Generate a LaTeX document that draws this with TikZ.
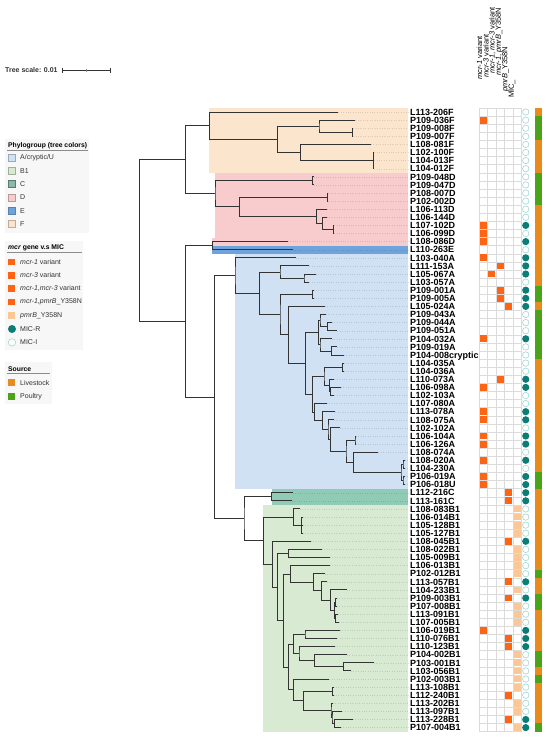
\documentclass[tikz,border=0pt]{standalone}
\usepackage{fontspec}
\setmainfont{Liberation Sans}
\usetikzlibrary{calc}
\definecolor{bandF}{HTML}{FCE5CD}
\definecolor{bandD}{HTML}{F8CCCC}
\definecolor{bandE}{HTML}{6FA3DC}
\definecolor{bandA}{HTML}{CFE1F3}
\definecolor{bandC}{HTML}{8FCBB5}
\definecolor{bandB}{HTML}{D9EAD3}
\definecolor{mcrorange}{HTML}{FF6314}
\definecolor{pmrlight}{HTML}{FAC796}
\definecolor{micr}{HTML}{0B7D78}
\definecolor{mici}{HTML}{A3D6D3}
\definecolor{livestock}{HTML}{E98A1D}
\definecolor{poultry}{HTML}{4AA41A}
\definecolor{treegray}{HTML}{333333}
\definecolor{lgtext}{HTML}{333333}
\newcommand\mkclade[4]{%
  \coordinate (tmpmid) at ($(#3)!0.5!(#4)$);
  \coordinate (tmpx) at (#2,0);
  \coordinate (#1) at (tmpmid -| tmpx);
  \draw[br] (#3) -| (#1) |- (#4);
}
\newcommand\midleaf[2]{\draw[br] (#2 -| #1) -- (#2);}
\begin{document}
\begin{tikzpicture}[x=1pt,y=-1pt,
  br/.style={draw=treegray,line width=0.9pt},
  lbl/.style={anchor=west,inner sep=0pt,font=\fontsize{9}{9}\selectfont\bfseries,text height=6.5pt,text depth=0pt},
  guide/.style={draw=black,draw opacity=0.12,dotted,line width=0.4pt},
  gridl/.style={draw=black!14,line width=0.4pt},
  cell/.style={minimum size=6.8pt,inner sep=0pt,outer sep=0pt},
  hm0/.style={draw=none},
  hm1/.style={fill=mcrorange},
  hm2/.style={fill=mcrorange},
  hm3/.style={fill=mcrorange},
  hm4/.style={fill=mcrorange},
  hm5/.style={fill=pmrlight},
  micR/.style={circle,fill=micr,minimum size=7.2pt,inner sep=0pt},
  micI/.style={circle,draw=mici,fill=white,line width=0.6pt,minimum size=6.4pt,inner sep=0pt},
  srcL/.style={fill=livestock,minimum width=6.5pt,minimum height=8.4pt,inner sep=0pt},
  srcP/.style={fill=poultry,minimum width=6.5pt,minimum height=8.4pt,inner sep=0pt},
  hdr/.style={rotate=90,anchor=west,inner sep=0pt,font=\fontsize{7.5}{7.5}\selectfont},
  lgtitle/.style={anchor=west,inner sep=0pt,font=\fontsize{6.8}{6.8}\selectfont\bfseries,text=black},
  lgtxt/.style={anchor=west,inner sep=0pt,font=\fontsize{7}{7}\selectfont,text=lgtext},
  lgsw/.style={minimum size=6.8pt,inner sep=0pt,line width=0.4pt},
  ]
\useasboundingbox (0,0) rectangle (550,737);
\fill[white] (0,0) rectangle (550,737);

% clade bands
\fill[bandF] (209.3,107.95) rectangle (408.3,172.75);
\fill[bandD] (215,172.75) rectangle (408.3,237.55);
\fill[bandD] (211.7,237.55) rectangle (408.3,245.65);
\fill[bandE] (211.7,245.65) rectangle (408.3,253.75);
\fill[bandA] (235,253.75) rectangle (408.3,488.65);
\fill[bandC] (271.7,488.65) rectangle (408.3,504.85);
\fill[bandB] (263.3,504.85) rectangle (408.3,731.65);

% leaves, guides and labels
\foreach \i/\ex/\lab in {0/338.3/L113-206F,1/355.3/P109-036F,2/353.1/P109-008F,3/353.1/P109-007F,4/370.7/L108-081F,5/374.1/L102-100F,6/374.1/L104-013F,7/374.1/L104-012F,8/313.5/P109-048D,9/313.5/P109-047D,10/328.1/P108-007D,11/328.1/P102-002D,12/327.3/L106-113D,13/327/L106-144D,14/334.1/L107-102D,15/334.1/L106-099D,16/287.7/L108-086D,17/292.7/L110-263E,18/295.7/L103-040A,19/309.3/L111-153A,20/316/L105-067A,21/309.3/L103-057A,22/313.5/P109-001A,23/313.5/P109-005A,24/325/L105-024A,25/326/P109-043A,26/332/P109-044A,27/337.3/P109-051A,28/331.7/P104-032A,29/337.3/P109-019A,30/344/P104-008cryptic,31/343.5/L104-035A,32/343.5/L104-036A,33/334.3/L110-073A,34/340.7/L106-098A,35/334.3/L102-103A,36/326.7/L107-080A,37/335.3/L113-078A,38/334/L108-075A,39/340/L102-102A,40/355.8/L106-104A,41/355.8/L106-126A,42/378.3/L108-074A,43/405/L108-020A,44/405/L104-230A,45/405/P106-019A,46/405/P106-018U,47/292.7/L112-216C,48/291.7/L113-161C,49/300/L108-083B1,50/302.5/L106-014B1,51/302.5/L105-128B1,52/302.5/L105-127B1,53/310.7/L108-045B1,54/321.7/L108-022B1,55/330/L105-009B1,56/330/L106-013B1,57/325/P102-012B1,58/327.3/L113-057B1,59/346.7/L104-233B1,60/337/P109-003B1,61/337/P107-008B1,62/338/L113-091B1,63/338.5/L107-005B1,64/340/L106-019B1,65/337.3/L110-076B1,66/335/L110-123B1,67/346.7/P104-002B1,68/374/P103-001B1,69/351/L103-056B1,70/329.3/P102-003B1,71/333.5/L113-108B1,72/333.5/L112-240B1,73/333/L113-202B1,74/342.3/L113-097B1,75/352.7/L113-228B1,76/340.7/P107-004B1}{
  \coordinate (l\i) at (\ex,{112+8.1*\i});
  \draw[guide] (l\i) -- (408,{112+8.1*\i});
  \node[lbl] (t\i) at (410,{112+8.1*\i}) {\lab};
}

% tree: F
\mkclade{c1}{352.3}{l2}{l3}
\mkclade{c2}{373.3}{l5}{l7}\midleaf{c2}{l6}
\mkclade{nF3}{319}{l1}{c1}
\mkclade{nF4}{300.7}{l4}{c2}
\mkclade{nF2}{277.7}{nF3}{nF4}
\mkclade{nF}{209.3}{l0}{nF2}
% D
\mkclade{cD1}{312.7}{l8}{l9}
\mkclade{cD2}{327.3}{l10}{l11}
\mkclade{cD3}{333.3}{l14}{l15}
\mkclade{nD4}{322.3}{l13}{cD3}
\mkclade{nD3}{316.7}{l12}{nD4}
\mkclade{nD2}{239.3}{cD2}{nD3}
\mkclade{nD}{215}{cD1}{nD2}
\mkclade{nFD}{185.7}{nF}{nD}
% E
\mkclade{nE}{212.7}{l16}{l17}
% A
\mkclade{nA3b}{304}{l20}{l21}
\mkclade{nA3}{280}{l19}{nA3b}
\mkclade{cA1}{312.7}{l22}{l23}
\mkclade{nA9}{327.3}{l26}{l27}
\mkclade{nA8}{320}{l25}{nA9}
\mkclade{nA11}{331.7}{l29}{l30}
\mkclade{nA10}{320}{l28}{nA11}
\mkclade{nA7}{318.7}{nA8}{nA10}
\mkclade{cA2}{342.7}{l31}{l32}
\mkclade{nA19}{330.2}{l34}{l35}
\mkclade{nA20}{329.3}{l33}{nA19}
\mkclade{nA21}{324}{cA2}{nA20}
\mkclade{cA3}{355}{l40}{l41}
\mkclade{c43a}{403}{l43}{l44}
\mkclade{c43b}{403}{l45}{l46}
\mkclade{nA22}{401}{c43a}{c43b}
\mkclade{nA18}{353.3}{l42}{nA22}
\mkclade{nA17}{346}{cA3}{nA18}
\mkclade{nA16}{330.7}{l39}{nA17}
\mkclade{nA15}{328}{l38}{nA16}
\mkclade{nA14}{322.7}{l37}{nA15}
\mkclade{nA13}{314.3}{l36}{nA14}
\mkclade{nA12}{312.7}{nA21}{nA13}
\mkclade{nA6}{305.3}{nA7}{nA12}
\mkclade{nA5}{288.3}{l24}{nA6}
\mkclade{nA4}{280}{cA1}{nA5}
\mkclade{nA2}{259.3}{nA3}{nA4}
\mkclade{nA}{235}{l18}{nA2}
% C
\mkclade{nC}{271.7}{l47}{l48}
% B1
\mkclade{nB3}{301.7}{l50}{l52}\midleaf{nB3}{l51}
\mkclade{nB2}{293.3}{l49}{nB3}
\mkclade{cB1}{335.5}{l60}{l61}
\mkclade{cB2}{335.5}{l62}{l63}
\mkclade{nB8}{334.3}{cB1}{cB2}
\mkclade{nB16}{330.7}{l59}{nB8}
\mkclade{nB17}{321.7}{l58}{nB16}
\mkclade{nB18}{313.3}{l57}{nB17}
\mkclade{nB7}{290.7}{l56}{nB18}
\mkclade{nB19}{343.3}{l68}{l69}
\mkclade{nB20}{314.3}{l67}{nB19}
\mkclade{nB21}{299}{l66}{nB20}
\mkclade{nB22}{305}{l64}{l65}
\mkclade{nB10}{293.3}{nB22}{nB21}
\mkclade{cB3}{332.7}{l71}{l72}
\mkclade{nB13}{334.3}{l75}{l76}
\mkclade{nB14}{332}{l74}{nB13}
\mkclade{nB12}{331}{l73}{nB14}
\mkclade{nB23}{303.3}{cB3}{nB12}
\mkclade{nB11}{293.3}{l70}{nB23}
\mkclade{nB9}{288.3}{nB10}{nB11}
\mkclade{nB6}{283.3}{nB7}{nB9}
\mkclade{nB15}{288.3}{l54}{l55}
\mkclade{nB5}{277.7}{nB15}{nB6}
\mkclade{nB4}{272.3}{l53}{nB5}
\mkclade{nB}{263.3}{nB2}{nB4}
\mkclade{nBC}{244}{nC}{nB}
\mkclade{nABC}{214.3}{nA}{nBC}
\mkclade{nR2}{185.7}{nE}{nABC}
\mkclade{root}{139.3}{nFD}{nR2}

% heatmap grid
\foreach \k in {0,...,77}{\draw[gridl] (479,{107.95+8.1*\k}) -- (521.5,{107.95+8.1*\k});}
\foreach \k in {0,...,5}{\draw[gridl] ({479+8.5*\k},107.95) -- ({479+8.5*\k},731.65);}

% heatmap cells, MIC and source
\foreach \i/\c/\m/\s in {0/0/I/L,1/1/I/P,2/0/I/P,3/0/I/P,4/0/I/L,5/0/I/L,6/0/I/L,7/0/I/L,8/0/I/P,9/0/I/P,10/0/I/P,11/0/I/P,12/0/I/L,13/0/I/L,14/1/R/L,15/1/I/L,16/1/R/L,17/0/I/L,18/1/R/L,19/3/R/L,20/2/R/L,21/0/I/L,22/3/R/P,23/3/R/P,24/4/R/L,25/0/I/P,26/0/I/P,27/0/I/P,28/1/R/P,29/0/I/P,30/0/I/P,31/0/I/L,32/0/I/L,33/3/R/L,34/1/R/L,35/0/I/L,36/0/I/L,37/1/R/L,38/1/R/L,39/0/I/L,40/1/R/L,41/1/R/L,42/0/I/L,43/1/R/L,44/0/I/L,45/1/R/P,46/1/R/P,47/4/R/L,48/4/R/L,49/5/I/L,50/5/I/L,51/5/I/L,52/5/I/L,53/4/R/L,54/5/I/L,55/5/I/L,56/5/I/L,57/5/I/P,58/4/R/L,59/5/I/L,60/4/R/P,61/5/I/P,62/5/I/L,63/5/I/L,64/1/R/L,65/4/R/L,66/4/R/L,67/5/I/P,68/5/I/P,69/5/I/L,70/5/I/P,71/5/I/L,72/4/I/L,73/5/I/L,74/5/I/L,75/4/R/L,76/5/R/P}{
  \node[cell,hm\c] (h\i) at ({483.25+8.5*(\c-1)},{112+8.1*\i}) {};
  \node[mic\m] (m\i) at (525.75,{112+8.1*\i}) {};
  \node[src\s] (s\i) at (538.25,{112+8.1*\i}) {};
}

% column headers
\node[hdr] (hd1) at (479.5,80) {\textit{mcr-1} variant};
\node[hdr] (hd2) at (486,78) {\textit{mcr-3} variant};
\node[hdr] (hd3) at (492.5,74) {\textit{mcr-1}, \textit{mcr-3} variant};
\node[hdr] (hd4) at (499,76) {\textit{mcr-1}, \textit{pmrB}\_Y358N};
\node[hdr] (hd5) at (505.5,92) {\textit{pmrB}\_Y358N};
\node[hdr] (hd6) at (512,98) {MIC\_};

% tree scale
\node[anchor=west,inner sep=0pt,font=\fontsize{7}{7}\selectfont\bfseries,text=lgtext] (tscale) at (5,70) {Tree scale: 0.01};
\coordinate (sb1) at (62.7,70);
\coordinate (sb2) at (110,70);
\coordinate (sbm) at ($(sb1)!0.5!(sb2)$);
\draw[treegray,line width=1pt] (sb1) -- (sb2);
\draw[treegray,line width=0.6pt] ($(sb1)+(0,-2.5)$) -- ($(sb1)+(0,2.5)$);
\draw[treegray,line width=0.6pt] ($(sb2)+(0,-2.5)$) -- ($(sb2)+(0,2.5)$);
\draw[treegray!60,line width=0.5pt] ($(sbm)+(0,-1.5)$) -- ($(sbm)+(0,1.5)$);

% legend panels
\fill[black!3] (5,139) rectangle (89,233);
\fill[black!3] (5,241) rectangle (83,350);
\fill[black!3] (5,362) rectangle (52,404);

% legend 1
\node[lgtitle] (lg1) at (8,146) {Phylogroup (tree colors)};
\draw[black!45,line width=0.6pt] (7,150) -- (88,150);
\node[lgsw,fill=bandA,draw=bandA!75!black] (swA) at (11.8,157.4) {};
\node[lgtxt] (ltA) at (20,157.4) {A/cryptic/U};
\node[lgsw,fill=bandB,draw=bandB!75!black] (swB) at (11.8,170.7) {};
\node[lgtxt] (ltB) at (20,170.7) {B1};
\node[lgsw,fill=bandC!75!gray,draw=bandC!60!black] (swC) at (11.8,184) {};
\node[lgtxt] (ltC) at (20,184) {C};
\node[lgsw,fill=bandD,draw=bandD!75!black] (swD) at (11.8,197.3) {};
\node[lgtxt] (ltD) at (20,197.3) {D};
\node[lgsw,fill=bandE,draw=bandE!80!black] (swE) at (11.8,210.6) {};
\node[lgtxt] (ltE) at (20,210.6) {E};
\node[lgsw,fill=bandF,draw=bandF!75!black] (swF) at (11.8,223.9) {};
\node[lgtxt] (ltF) at (20,223.9) {F};

% legend 2
\node[lgtitle] (lg2) at (8,248.3) {\textit{mcr} gene v.s MIC};
\draw[black!45,line width=0.6pt] (7,252.3) -- (82,252.3);
\node[lgsw,fill=mcrorange] (sw1) at (11.8,262) {};
\node[lgtxt] (lt1) at (20,262) {\textit{mcr-1} variant};
\node[lgsw,fill=mcrorange] (sw2) at (11.8,275.4) {};
\node[lgtxt] (lt2) at (20,275.4) {\textit{mcr-3} variant};
\node[lgsw,fill=mcrorange] (sw3) at (11.8,288.7) {};
\node[lgtxt] (lt3) at (20,288.7) {\textit{mcr-1},\textit{mcr-3} variant};
\node[lgsw,fill=mcrorange] (sw4) at (11.8,302) {};
\node[lgtxt] (lt4) at (20,302) {\textit{mcr-1},\textit{pmrB}\_Y358N};
\node[lgsw,fill=pmrlight] (sw5) at (11.8,315.6) {};
\node[lgtxt] (lt5) at (20,315.6) {\textit{pmrB}\_Y358N};
\node[circle,fill=micr,minimum size=8pt,inner sep=0pt] (sw6) at (12,329) {};
\node[lgtxt] (lt6) at (20,329) {MIC-R};
\node[circle,draw=mici,fill=white,line width=0.6pt,minimum size=7.4pt,inner sep=0pt] (sw7) at (12,342.4) {};
\node[lgtxt] (lt7) at (20,342.4) {MIC-I};

% legend 3
\node[lgtitle] (lg3) at (8,369.3) {Source};
\draw[black!45,line width=0.6pt] (7,373.3) -- (50,373.3);
\node[lgsw,fill=livestock] (sw8) at (11.8,382.7) {};
\node[lgtxt] (lt8) at (20,382.7) {Livestock};
\node[lgsw,fill=poultry] (sw9) at (11.8,396.4) {};
\node[lgtxt] (lt9) at (20,396.4) {Poultry};
\end{tikzpicture}
\end{document}
